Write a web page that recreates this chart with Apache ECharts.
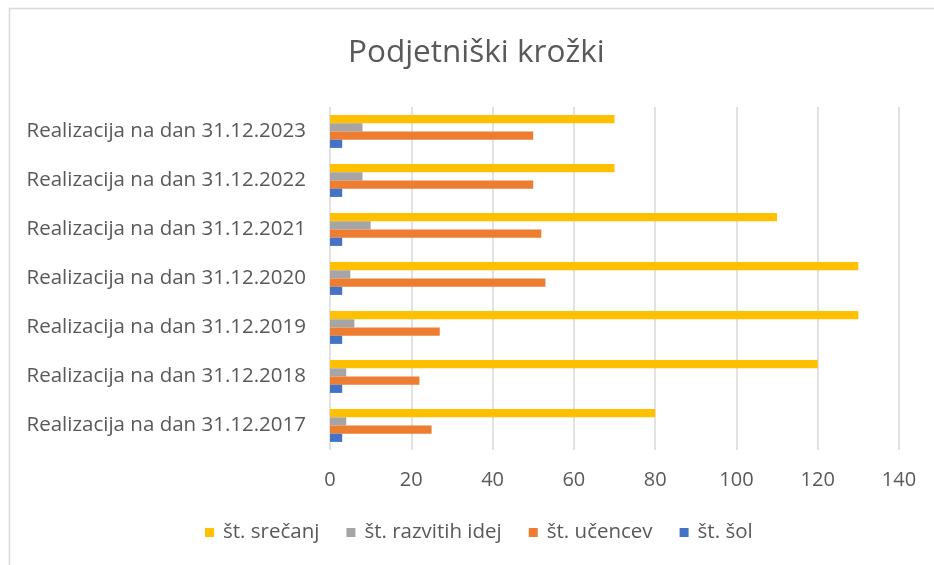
<!DOCTYPE html>
<html>
<head>
<meta charset="utf-8">
<script src="https://cdn.jsdelivr.net/npm/echarts@6/dist/echarts.min.js"></script>
<style>
  html, body { margin: 0; padding: 0; background: #fff; }
  #chart { width: 934px; height: 565px; }
</style>
</head>
<body>
<div id="chart"></div>
<script>
// kategorije (od spodaj navzgor, kot v Excelu)
const categories = [
  'Realizacija na dan 31.12.2017',
  'Realizacija na dan 31.12.2018',
  'Realizacija na dan 31.12.2019',
  'Realizacija na dan 31.12.2020',
  'Realizacija na dan 31.12.2021',
  'Realizacija na dan 31.12.2022',
  'Realizacija na dan 31.12.2023',
]
const srecanja = [80, 120, 130, 130, 110, 70, 70]
const ideje = [4, 4, 6, 5, 10, 8, 8]
const ucenci = [25, 22, 27, 53, 52, 50, 50]
const sole = [3, 3, 3, 3, 3, 3, 3]
const xTicks = [0, 20, 40, 60, 80, 100, 120, 140]

const FONT = '"Open Sans", "Noto Sans", sans-serif'

const chart = echarts.init(document.getElementById('chart'), null, { renderer: 'canvas' })

function bar(name, data, color) {
  return {
    name,
    type: 'bar',
    data,
    barGap: '0%',
    barCategoryGap: '33%',
    itemStyle: { color },
    emphasis: { disabled: true },
  }
}

chart.setOption({
  animation: false,
  textStyle: { fontFamily: FONT },
  graphic: [
    {
      type: 'rect',
      shape: { x: 9.5, y: 8.5, width: 1000, height: 1000 },
      style: { fill: 'none', stroke: '#d9d9d9', lineWidth: 1.5 },
      silent: true,
    },
  ],
  title: {
    text: 'Podjetniški krožki',
    left: 343,
    top: 32,
    textStyle: { fontFamily: FONT, fontSize: 31.5, fontWeight: 'normal', color: '#595959' },
  },
  legend: {
    bottom: 17,
    left: 200,
    itemWidth: 9,
    itemHeight: 9,
    itemGap: 27,
    icon: 'rect',
    data: ['št. srečanj', 'št. razvitih idej', 'št. učencev', 'št. šol'],
    textStyle: { fontFamily: FONT, fontSize: 20.5, color: '#595959', padding: [0, 0, 0, 4] },
  },
  grid: { left: 330, right: 35, top: 107, bottom: 115, containLabel: false },
  xAxis: {
    type: 'value',
    min: xTicks[0],
    max: xTicks[xTicks.length - 1],
    interval: 20,
    axisLine: { show: false },
    axisTick: { show: false },
    axisLabel: { fontFamily: FONT, fontSize: 20, color: '#595959', margin: 20 },
    splitLine: { lineStyle: { color: '#d9d9d9', width: 1.5 } },
  },
  yAxis: {
    type: 'category',
    data: categories,
    axisLine: { show: false },
    axisTick: { show: false },
    axisLabel: { fontFamily: FONT, fontSize: 20.5, color: '#595959', margin: 24 },
  },
  series: [
    bar('št. srečanj', srecanja, '#FFC000'),
    bar('št. razvitih idej', ideje, '#A5A5A5'),
    bar('št. učencev', ucenci, '#ED7D31'),
    bar('št. šol', sole, '#4472C4'),
  ],
})
</script>
</body>
</html>
